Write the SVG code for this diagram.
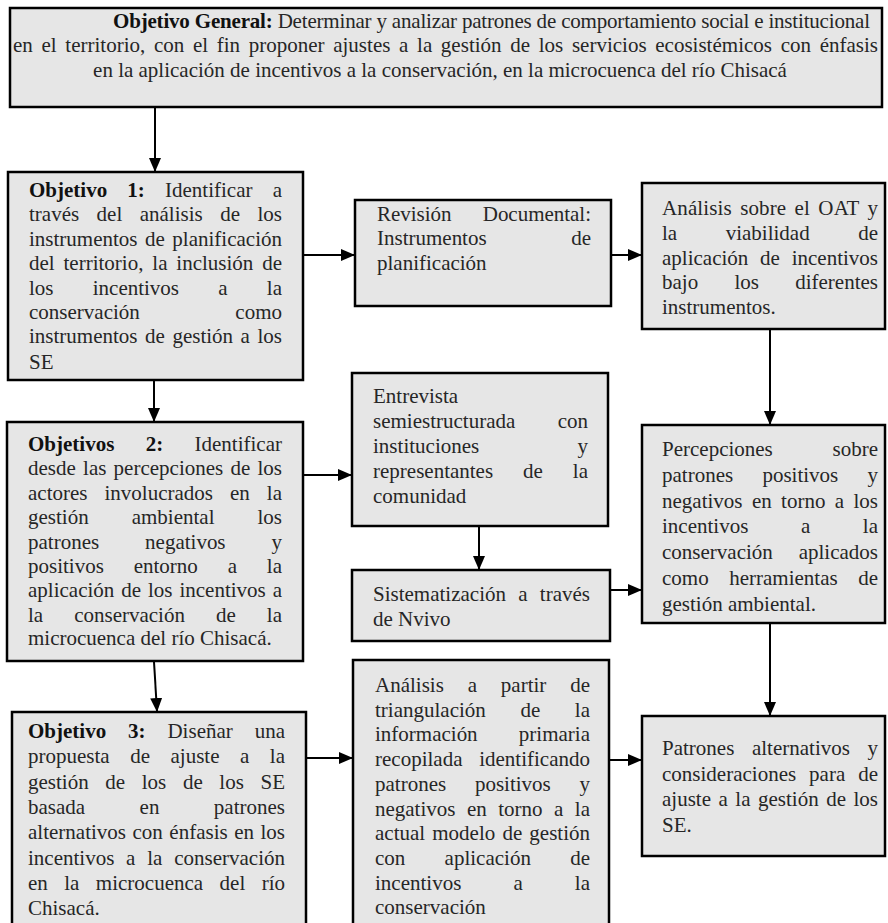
<svg xmlns="http://www.w3.org/2000/svg" width="888" height="923" viewBox="0 0 888 923">
  <style>
    .box { fill: #e6e6e6; stroke: #000; stroke-width: 2.5; }
    .t { font-family: "Liberation Serif", "Times New Roman", serif; font-size: 21px; fill: #262626; }
    .b { font-weight: bold; fill: #111; }
    .ln { stroke: #000; stroke-width: 2; fill: none; marker-end: url(#ah); }
  </style>
  <defs>
    <marker id="ah" markerUnits="userSpaceOnUse" viewBox="0 0 14 12" markerWidth="14" markerHeight="12" refX="13" refY="6" orient="auto">
      <path d="M0,0 L14,6 L0,12 z" fill="#000"/>
    </marker>
  </defs>

  <!-- general objective -->
  <g id="objetivo-general">
    <rect class="box" x="10" y="8" width="872" height="99"/>
    <text class="t" x="113" y="28" textLength="757" lengthAdjust="spacing"><tspan class="b">Objetivo General:</tspan> Determinar y analizar patrones de comportamiento social e institucional</text>
    <text class="t" x="13" y="52" word-spacing="3.4" textLength="865" lengthAdjust="spacing">en el territorio, con el fin proponer ajustes a la gestión de los servicios ecosistémicos con énfasis</text>
    <text class="t" x="440" y="77" text-anchor="middle">en la aplicación de incentivos a la conservación, en la microcuenca del río Chisacá</text>
  </g>

  <!-- specific objective 1 -->
  <g id="objetivo-1">
    <rect class="box" x="8" y="172" width="295" height="208"/>
    <text class="t" x="29" y="197" word-spacing="14.95" textLength="253" lengthAdjust="spacing"><tspan class="b">Objetivo 1:</tspan> Identificar a</text>
    <text class="t" x="29" y="221.4" word-spacing="12.2" textLength="253" lengthAdjust="spacing">través del análisis de los</text>
    <text class="t" x="29" y="245.8" word-spacing="2.25" textLength="253" lengthAdjust="spacing">instrumentos de planificación</text>
    <text class="t" x="29" y="270.2" word-spacing="3.6" textLength="253" lengthAdjust="spacing">del territorio, la inclusión de</text>
    <text class="t" x="29" y="294.6" word-spacing="34" textLength="253" lengthAdjust="spacing">los incentivos a la</text>
    <text class="t" x="29" y="319" word-spacing="90.3" textLength="253" lengthAdjust="spacing">conservación como</text>
    <text class="t" x="29" y="343.4" word-spacing="2.3" textLength="253" lengthAdjust="spacing">instrumentos de gestión a los</text>
    <text class="t" x="29" y="368.8">SE</text>
  </g>

  <!-- specific objective 2 -->
  <g id="objetivo-2">
    <rect class="box" x="7" y="422" width="296" height="239"/>
    <text class="t" x="28" y="451" word-spacing="26.1" textLength="254" lengthAdjust="spacing"><tspan class="b">Objetivos 2:</tspan> Identificar</text>
    <text class="t" x="28" y="475.4" word-spacing="1.97" textLength="254" lengthAdjust="spacing">desde las percepciones de los</text>
    <text class="t" x="28" y="499.8" word-spacing="11.8" textLength="254" lengthAdjust="spacing">actores involucrados en la</text>
    <text class="t" x="28" y="524.2" word-spacing="37.75" textLength="254" lengthAdjust="spacing">gestión ambiental los</text>
    <text class="t" x="28" y="548.6" word-spacing="40.7" textLength="254" lengthAdjust="spacing">patrones negativos y</text>
    <text class="t" x="28" y="573" word-spacing="24.6" textLength="254" lengthAdjust="spacing">positivos entorno a la</text>
    <text class="t" x="28" y="597.4" word-spacing="1.68" textLength="254" lengthAdjust="spacing">aplicación de los incentivos a</text>
    <text class="t" x="28" y="621.8" word-spacing="25.8" textLength="254" lengthAdjust="spacing">la conservación de la</text>
    <text class="t" x="28" y="645.2">microcuenca del río Chisacá.</text>
  </g>

  <!-- specific objective 3 -->
  <g id="objetivo-3">
    <rect class="box" x="12" y="712" width="294" height="225"/>
    <text class="t" x="28" y="738" word-spacing="16.65" textLength="257" lengthAdjust="spacing"><tspan class="b">Objetivo 3:</tspan> Diseñar una</text>
    <text class="t" x="28" y="763.3" word-spacing="15.25" textLength="257" lengthAdjust="spacing">propuesta de ajuste a la</text>
    <text class="t" x="28" y="788.6" word-spacing="11.4" textLength="257" lengthAdjust="spacing">gestión de los de los SE</text>
    <text class="t" x="28" y="813.9" word-spacing="49.2" textLength="257" lengthAdjust="spacing">basada en patrones</text>
    <text class="t" x="28" y="839.2" word-spacing="1.25" textLength="257" lengthAdjust="spacing">alternativos con énfasis en los</text>
    <text class="t" x="28" y="864.5" word-spacing="6.55" textLength="257" lengthAdjust="spacing">incentivos a la conservación</text>
    <text class="t" x="28" y="889.8" word-spacing="11.2" textLength="257" lengthAdjust="spacing">en la microcuenca del río</text>
    <text class="t" x="28" y="915">Chisacá.</text>
  </g>

  <!-- method: document review -->
  <g id="revision-documental">
    <rect class="box" x="355" y="200" width="256" height="106"/>
    <text class="t" x="377" y="221" word-spacing="26" textLength="214" lengthAdjust="spacing">Revisión Documental:</text>
    <text class="t" x="377" y="245.4" word-spacing="79.3" textLength="214" lengthAdjust="spacing">Instrumentos de</text>
    <text class="t" x="377" y="269.8">planificación</text>
  </g>

  <!-- result: OAT analysis -->
  <g id="analisis-oat">
    <rect class="box" x="642" y="183" width="243" height="146"/>
    <text class="t" x="662" y="215" word-spacing="2.97" textLength="216" lengthAdjust="spacing">Análisis sobre el OAT y</text>
    <text class="t" x="662" y="239.8" word-spacing="43.25" textLength="216" lengthAdjust="spacing">la viabilidad de</text>
    <text class="t" x="662" y="264.6" word-spacing="6.5" textLength="216" lengthAdjust="spacing">aplicación de incentivos</text>
    <text class="t" x="662" y="289.4" word-spacing="31" textLength="216" lengthAdjust="spacing">bajo los diferentes</text>
    <text class="t" x="662" y="314.2">instrumentos.</text>
  </g>

  <!-- method: interviews -->
  <g id="entrevista">
    <rect class="box" x="352" y="373" width="256" height="153"/>
    <text class="t" x="373" y="403">Entrevista</text>
    <text class="t" x="373" y="428" word-spacing="37.1" textLength="215" lengthAdjust="spacing">semiestructurada con</text>
    <text class="t" x="373" y="453" word-spacing="93" textLength="215" lengthAdjust="spacing">instituciones y</text>
    <text class="t" x="373" y="478" word-spacing="24.7" textLength="215" lengthAdjust="spacing">representantes de la</text>
    <text class="t" x="373" y="503">comunidad</text>
  </g>

  <!-- method: coding in Nvivo -->
  <g id="sistematizacion">
    <rect class="box" x="352" y="570" width="258" height="71"/>
    <text class="t" x="373" y="601" word-spacing="7" textLength="217" lengthAdjust="spacing">Sistematización a través</text>
    <text class="t" x="373" y="626">de Nvivo</text>
  </g>

  <!-- result: perceptions -->
  <g id="percepciones">
    <rect class="box" x="642" y="425" width="243" height="198"/>
    <text class="t" x="662" y="456" word-spacing="54.5" textLength="216" lengthAdjust="spacing">Percepciones sobre</text>
    <text class="t" x="662" y="481.8" word-spacing="24" textLength="216" lengthAdjust="spacing">patrones positivos y</text>
    <text class="t" x="662" y="507.6" word-spacing="4.1" textLength="216" lengthAdjust="spacing">negativos en torno a los</text>
    <text class="t" x="662" y="533.4" word-spacing="47.35" textLength="216" lengthAdjust="spacing">incentivos a la</text>
    <text class="t" x="662" y="559.2" word-spacing="20.6" textLength="216" lengthAdjust="spacing">conservación aplicados</text>
    <text class="t" x="662" y="585" word-spacing="15.25" textLength="216" lengthAdjust="spacing">como herramientas de</text>
    <text class="t" x="662" y="610.8">gestión ambiental.</text>
  </g>

  <!-- method: triangulation -->
  <g id="analisis-triangulacion">
    <rect class="box" x="353" y="660" width="256" height="277"/>
    <text class="t" x="375" y="692" word-spacing="18.6" textLength="215" lengthAdjust="spacing">Análisis a partir de</text>
    <text class="t" x="375" y="716.7" word-spacing="29.35" textLength="215" lengthAdjust="spacing">triangulación de la</text>
    <text class="t" x="375" y="741.4" word-spacing="36" textLength="215" lengthAdjust="spacing">información primaria</text>
    <text class="t" x="375" y="766.1" word-spacing="11.5" textLength="215" lengthAdjust="spacing">recopilada identificando</text>
    <text class="t" x="375" y="790.8" word-spacing="23.5" textLength="215" lengthAdjust="spacing">patrones positivos y</text>
    <text class="t" x="375" y="815.5" word-spacing="6.25" textLength="215" lengthAdjust="spacing">negativos en torno a la</text>
    <text class="t" x="375" y="840.2" word-spacing="1.9" textLength="215" lengthAdjust="spacing">actual modelo de gestión</text>
    <text class="t" x="375" y="864.9" word-spacing="34" textLength="215" lengthAdjust="spacing">con aplicación de</text>
    <text class="t" x="375" y="889.6" word-spacing="46.85" textLength="215" lengthAdjust="spacing">incentivos a la</text>
    <text class="t" x="375" y="914.3">conservación</text>
  </g>

  <!-- result: alternative patterns -->
  <g id="patrones-alternativos">
    <rect class="box" x="642" y="716" width="243" height="140"/>
    <text class="t" x="662" y="755" word-spacing="12.35" textLength="216" lengthAdjust="spacing">Patrones alternativos y</text>
    <text class="t" x="662" y="780.5" word-spacing="7.7" textLength="216" lengthAdjust="spacing">consideraciones para de</text>
    <text class="t" x="662" y="806" word-spacing="2.25" textLength="216" lengthAdjust="spacing">ajuste a la gestión de los</text>
    <text class="t" x="662" y="831.5">SE.</text>
  </g>

  <!-- connectors -->
  <g id="connectors">
    <line class="ln" x1="155" y1="108" x2="155" y2="171"/>
    <line class="ln" x1="304" y1="255" x2="354" y2="255"/>
    <line class="ln" x1="612" y1="255" x2="641" y2="255"/>
    <line class="ln" x1="154" y1="381" x2="154" y2="421"/>
    <line class="ln" x1="304" y1="475" x2="351" y2="475"/>
    <line class="ln" x1="770" y1="330" x2="770" y2="424"/>
    <line class="ln" x1="479" y1="527" x2="479" y2="569"/>
    <line class="ln" x1="611" y1="590" x2="641" y2="590"/>
    <line class="ln" x1="154" y1="662" x2="157" y2="711"/>
    <line class="ln" x1="307" y1="758" x2="352" y2="758"/>
    <line class="ln" x1="610" y1="760" x2="641" y2="760"/>
    <line class="ln" x1="770" y1="624" x2="770" y2="715"/>
  </g>
</svg>
